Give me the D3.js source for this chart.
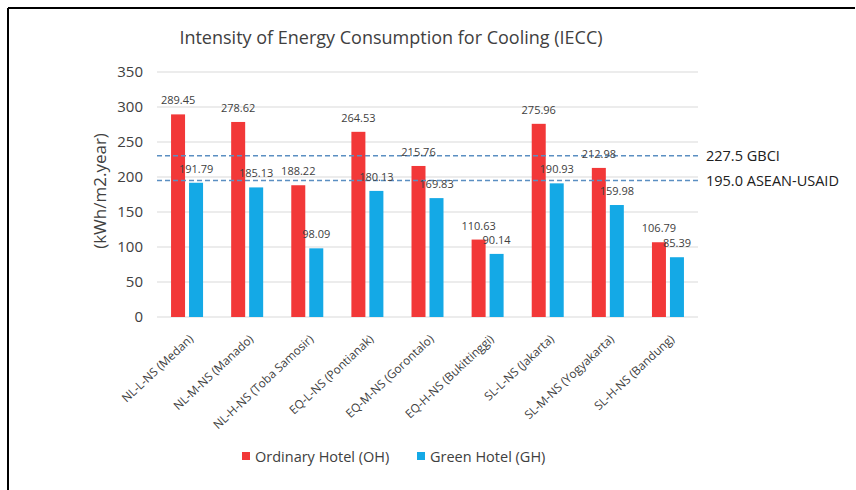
<!DOCTYPE html>
<html><head><meta charset="utf-8">
<script src="https://cdn.jsdelivr.net/npm/d3@7"></script>
<style>body{margin:0;background:#fff}svg{display:block}</style>
</head><body>
<script>
const categories = ["NL-L-NS (Medan)","NL-M-NS (Manado)","NL-H-NS (Toba Samosir)","EQ-L-NS (Pontianak)","EQ-M-NS (Gorontalo)","EQ-H-NS (Bukittinggi)","SL-L-NS (Jakarta)","SL-M-NS (Yogyakarta)","SL-H-NS (Bandung)"];
const ordinaryHotel = [289.45,278.62,188.22,264.53,215.76,110.63,275.96,212.98,106.79];
const greenHotel = [191.79,185.13,98.09,180.13,169.83,90.14,190.93,159.98,85.39];
const seriesNames = ["Ordinary Hotel (OH)","Green Hotel (GH)"];
const yTicks = [0,50,100,150,200,250,300,350];
const refValues = [230.5,195];
const refLabels = ["227.5 GBCI","195.0 ASEAN-USAID"];

const W=856,H=490;
const svg=d3.select("body").append("svg").attr("width",W).attr("height",H);
const font="'Open Sans', 'Noto Sans', sans-serif";
const colors=["#f23838","#14a9e6"];
const txt="#404040";

// frame
svg.append("line").attr("x1",8).attr("x2",855).attr("y1",8).attr("y2",8).attr("stroke","#000").attr("stroke-width",2);
svg.append("line").attr("x1",8).attr("x2",8).attr("y1",8).attr("y2",490).attr("stroke","#000").attr("stroke-width",2);

const x=d3.scaleBand().domain(categories).range([157,698]).padding(0);
const y=d3.scaleLinear().domain([0,350]).range([317,72]);

// grid
svg.append("g").selectAll("line").data(yTicks).join("line")
  .attr("x1",157).attr("x2",698).attr("y1",d=>y(d)).attr("y2",d=>y(d))
  .attr("stroke","#d9d9d9").attr("stroke-width",1);

// y axis labels
const yAxis=d3.axisLeft(y).tickValues(yTicks).tickSize(0).tickPadding(0);
const ya=svg.append("g").attr("transform","translate(143,0)").call(yAxis);
ya.select(".domain").remove();
ya.selectAll("text").attr("font-family",font).attr("font-size",15).attr("fill",txt);

svg.append("text").attr("transform","translate(106,191) rotate(-90)").attr("text-anchor","middle")
  .attr("font-family",font).attr("font-size",17).attr("fill",txt).text("(kWh/m2.year)");

// title
svg.append("text").attr("x",391).attr("y",44).attr("text-anchor","middle")
  .attr("font-family",font).attr("font-size",18).attr("fill",txt).text("Intensity of Energy Consumption for Cooling (IECC)");

const bw=14, gap=4;
const series=[ordinaryHotel,greenHotel];
const offs=[-gap/2-bw, gap/2];
series.forEach((vals,si)=>{
  const g=svg.append("g");
  g.selectAll("rect").data(vals).join("rect")
    .attr("x",(d,i)=>x(categories[i])+x.bandwidth()/2+offs[si])
    .attr("width",bw).attr("y",d=>y(d)).attr("height",d=>y(0)-y(d)).attr("fill",colors[si]);
});

// reference lines
refValues.forEach((v,i)=>{
  svg.append("line").attr("x1",157).attr("x2",698).attr("y1",y(v)).attr("y2",y(v))
    .attr("stroke","#5b8fc2").attr("stroke-width",1.5).attr("stroke-dasharray","5,3");
  svg.append("text").attr("x",706).attr("y",y(v)+5).attr("font-family",font).attr("font-size",14.5)
    .attr("fill","#202020").text(refLabels[i]);
});

// value labels
series.forEach((vals,si)=>{
  svg.append("g").selectAll("text").data(vals).join("text")
    .attr("x",(d,i)=>x(categories[i])+x.bandwidth()/2+offs[si]+bw/2)
    .attr("y",d=>y(d)-10).attr("text-anchor","middle")
    .attr("font-family",font).attr("font-size",11).attr("fill",txt)
    .text(d=>d.toFixed(2));
});

// x labels
const xAxis=d3.axisBottom(x).tickSize(0).tickPadding(0);
const xa=svg.append("g").attr("transform","translate(0,322)").call(xAxis);
xa.select(".domain").remove();
xa.selectAll("text").attr("font-family",font).attr("font-size",11.8).attr("fill",txt)
  .attr("text-anchor","end").attr("dy",0).attr("transform","translate(7,18) rotate(-43)");

// legend
const legX=[242,417];
seriesNames.forEach((n,i)=>{
  svg.append("rect").attr("x",legX[i]).attr("y",452).attr("width",8).attr("height",8).attr("fill",colors[i]);
  svg.append("text").attr("x",legX[i]+13).attr("y",462).attr("font-family",font).attr("font-size",14.5)
    .attr("fill",txt).text(n);
});
</script>
</body></html>
